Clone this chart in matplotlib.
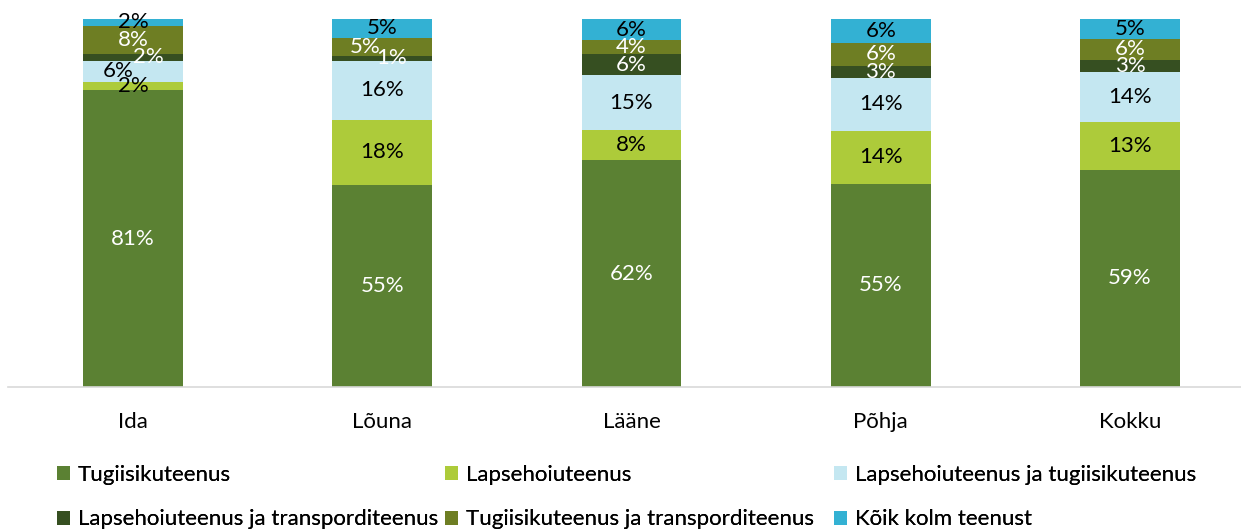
import numpy as np
import matplotlib.pyplot as plt

plt.rcParams['font.family'] = ['Lato', 'DejaVu Sans']

# piirkonnad
piirkonnad = ['Ida', 'Lõuna', 'Lääne', 'Põhja', 'Kokku']

# teenuste osakaalud (%), loetud jooniselt
tugiisik = [80.7, 54.9, 61.6, 55.2, 59.0]
lapsehoid = [2.2, 17.7, 8.2, 14.4, 13.0]
lapsehoid_tugi = [5.7, 16.0, 14.9, 14.4, 13.6]
lapsehoid_transport = [1.9, 1.4, 5.7, 3.3, 3.3]
tugi_transport = [7.6, 4.9, 3.8, 6.3, 5.7]
koik_kolm = [1.9, 5.2, 5.8, 6.3, 5.4]

seeriad = ['Tugiisikuteenus', 'Lapsehoiuteenus', 'Lapsehoiuteenus ja tugiisikuteenus',
           'Lapsehoiuteenus ja transporditeenus', 'Tugiisikuteenus ja transporditeenus',
           'Kõik kolm teenust']
andmed = [tugiisik, lapsehoid, lapsehoid_tugi, lapsehoid_transport, tugi_transport, koik_kolm]
varvid = ['#5B8133', '#ADCB3A', '#C4E7F1', '#364F21', '#6E7E23', '#33B1D3']
tekstivarvid = ['white', 'black', 'black', 'white', 'white', 'black']

# väikeste siltide nihked (seeria, piirkond) -> punktides
nihked = {(3, 0): 11, (2, 0): -11, (4, 1): -12, (3, 1): 7}

fig = plt.figure(figsize=(12.41, 5.29), dpi=100)
ax = fig.add_axes([8 / 1241, (529 - 387) / 529, 1233 / 1241, 368 / 529])

x = np.arange(len(piirkonnad))
pohi = np.zeros(len(piirkonnad))
kastid = []
for i, (nimi, vaartused) in enumerate(zip(seeriad, andmed)):
    v = np.array(vaartused)
    b = ax.bar(x, v, 0.4, bottom=pohi, color=varvid[i], label=nimi)
    kastid.append(b)
    for j in range(len(v)):
        dx = nihked.get((i, j), 0)
        ax.annotate('%.0f%%' % v[j], (x[j], pohi[j] + v[j] / 2), xytext=(dx, 0),
                    textcoords='offset points', ha='center', va='center',
                    fontsize=16, color=tekstivarvid[i])
    pohi += v

ax.set_xlim(-125 / 249, 4 + 111 / 249)
ax.set_ylim(0, 100)
ax.set_yticks([])
ax.set_xticks(x)
ax.set_xticklabels(piirkonnad, fontsize=16)
ax.tick_params(axis='x', length=0, pad=18)
for s in ['top', 'right', 'left']:
    ax.spines[s].set_visible(False)
ax.spines['bottom'].set_color('#D9D9D9')
ax.spines['bottom'].set_linewidth(1.2)

# legend: kolm võrdse laiusega veergu, täidetakse ridade kaupa
veerud = [(0, 3), (1, 4), (2, 5)]
veeru_x = [57, 445, 834]
for (a, b), vx in zip(veerud, veeru_x):
    leg = fig.legend([kastid[a], kastid[b]], [seeriad[a], seeriad[b]],
                     loc='upper left', bbox_to_anchor=(vx / 1241, 1 - 465 / 529),
                     frameon=False, fontsize=16, handlelength=0.6, handleheight=0.6,
                     handletextpad=0.35, labelspacing=1.1, borderpad=0, borderaxespad=0)
    fig.add_artist(leg)

fig.savefig('out.png', dpi=100)
